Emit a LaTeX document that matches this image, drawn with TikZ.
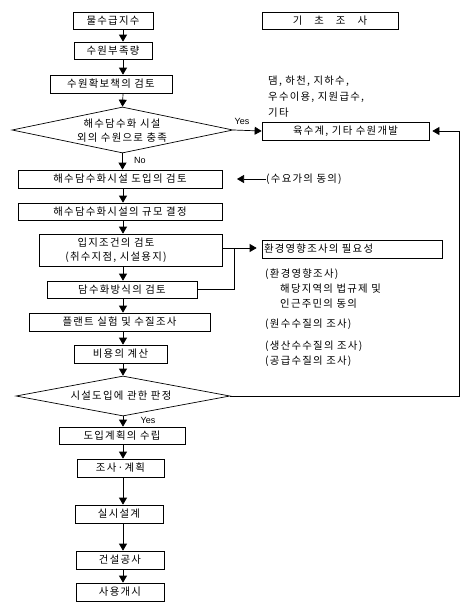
\documentclass[tikz,border=0pt]{standalone}
\usepackage{fontspec}
\setmainfont[LetterSpace=12]{Noto Sans CJK KR}
\newfontfamily\lat{Liberation Sans}
\usetikzlibrary{arrows.meta,shapes.geometric}
\newcommand{\kfs}{\fontsize{10.4pt}{14pt}\selectfont}
\begin{document}
\begin{tikzpicture}[x=1pt,y=-1pt,
  box/.style={draw, line width=0.7pt, inner sep=0pt, font=\kfs, align=center},
  dia/.style={draw, diamond, inner sep=0pt, line width=0.7pt},
  arr/.style={line width=0.7pt, -{Triangle[length=7pt,width=8pt]}},
  ln/.style={line width=0.7pt},
  txt/.style={font=\kfs, anchor=west, inner sep=0pt},
  yn/.style={font=\lat\fontsize{9pt}{10pt}\selectfont, inner sep=0pt}]
\useasboundingbox (0,0) rectangle (472,611);
\coordinate (ax) at (123,0);
% left column
\node[box, minimum width=80pt, minimum height=17pt] (b1) at (113,20.5) {물수급지수};
\node[box, minimum width=78pt, minimum height=17pt] (b2) at (113,50.5) {수원부족량};
\node[box, minimum width=122pt, minimum height=18pt] (b3) at (111,84) {수원확보책의 검토};
\node[dia, minimum width=221pt, minimum height=46pt] (d1) at (122.5,130) {};
\node[font=\kfs, align=center, inner sep=0pt] (d1t) at (122,131) {해수담수화 시설\\외의 수원으로 충족};
\node[box, minimum width=204pt, minimum height=18pt] (b4) at (120,179) {해수담수화시설 도입의 검토};
\node[box, minimum width=204pt, minimum height=17pt] (b5) at (120,211.5) {해수담수화시설의 규모 결정};
\node[box, minimum width=183pt, minimum height=32pt] (b6) at (130.5,250) {};
\node[font=\kfs, align=center, inner sep=0pt] (b6t) at (116,250) {입지조건의 검토\\(취수지점, 시설용지)};
\node[box, minimum width=150pt, minimum height=17pt] (b7) at (122,289.5) {담수화방식의 검토};
\node[box, minimum width=181pt, minimum height=18pt] (b8) at (119.5,322) {플랜트 실험 및 수질조사};
\node[box, minimum width=93pt, minimum height=18pt] (b9) at (120.5,354) {비용의 계산};
\node[dia, minimum width=214pt, minimum height=40pt] (d2) at (123,396) {};
\node[font=\kfs, inner sep=0pt] (d2t) at (121,396) {시설도입에 관한 판정};
\node[box, minimum width=126pt, minimum height=17pt] (b10) at (122,435.5) {도입계획의 수립};
\node[box, minimum width=87pt, minimum height=18pt] (b11) at (120.5,468) {조사·계획};
\node[box, minimum width=88pt, minimum height=18pt] (b12) at (119,514) {실시설계};
\node[box, minimum width=88pt, minimum height=18pt] (b13) at (120,560) {건설공사};
\node[box, minimum width=88pt, minimum height=18pt] (b14) at (120,592) {사용개시};
% right column
\node[box, minimum width=136pt, minimum height=17pt] (kc) at (330,20.5) {{\spaceskip=12pt 기 초 조 사}};
\node[txt] (t1) at (268,81) {댐, 하천, 지하수,};
\node[txt] (t2) at (268,97) {우수이용, 지원급수,};
\node[txt] (t3) at (268,113) {기타};
\node[box, minimum width=167pt, minimum height=18pt] (bq) at (345.5,131) {육수계, 기타 수원개발};
\node[txt] (dem) at (266,179) {(수요가의 동의)};
\node[box, minimum width=180pt, minimum height=18pt, align=left, text width=176pt] (env) at (352,249) {환경영향조사의 필요성};
\node[txt] (e1) at (265,274) {(환경영향조사)};
\node[txt] (e2) at (280,289) {해당지역의 법규제 및};
\node[txt] (e3) at (280,304) {인근주민의 동의};
\node[txt] (e4) at (265,324) {(원수수질의 조사)};
\node[txt] (e5) at (265,346) {(생산수수질의 조사)};
\node[txt] (e6) at (265,361) {(공급수질의 조사)};
% labels
\node[yn] (y1) at (242,121) {Yes};
\node[yn] (n1) at (140,160) {No};
\node[yn] (y2) at (148,420) {Yes};
% connectors
\draw[arr] (b1.south -| ax) -- (b2.north -| ax);
\draw[arr] (b2.south -| ax) -- (b3.north -| ax);
\draw[arr] (b3.south -| ax) -- (d1.north);
\draw[arr] (d1.east) -- (bq.west);
\draw[arr] (d1.south) -- (b4.north -| d1.south);
\coordinate (demend) at (237,179);
\draw[arr] (dem.west) -- (demend);
\draw[arr] (b4.south -| ax) -- (b5.north -| ax);
\draw[arr] (b5.south -| ax) -- (b6.north -| ax);
\draw[arr] (b6.south -| ax) -- (b7.north -| ax);
\draw[arr] (b7.south -| ax) -- (b8.north -| ax);
\draw[arr] (b8.south -| ax) -- (b9.north -| ax);
\draw[arr] (b9.south -| ax) -- (d2.north);
\draw[arr] (d2.south) -- (b10.north -| d2.south);
\draw[arr] (b10.south -| ax) -- (b11.north -| ax);
\draw[arr] (b11.south -| ax) -- (b12.north -| ax);
\draw[arr] (b12.south -| ax) -- (b13.north -| ax);
\draw[arr] (b13.south -| ax) -- (b14.north -| ax);
\coordinate (jn) at (234,248);
\draw[arr, shorten >=5pt] (b6.east |- jn) -- (jn -| env.west);
\draw[ln] (b7.east) -| (jn);
\coordinate (fb) at (459,131);
\draw[arr, shorten >=3pt] (d2.east) -| (fb) -- (bq.east);
\end{tikzpicture}
\end{document}
